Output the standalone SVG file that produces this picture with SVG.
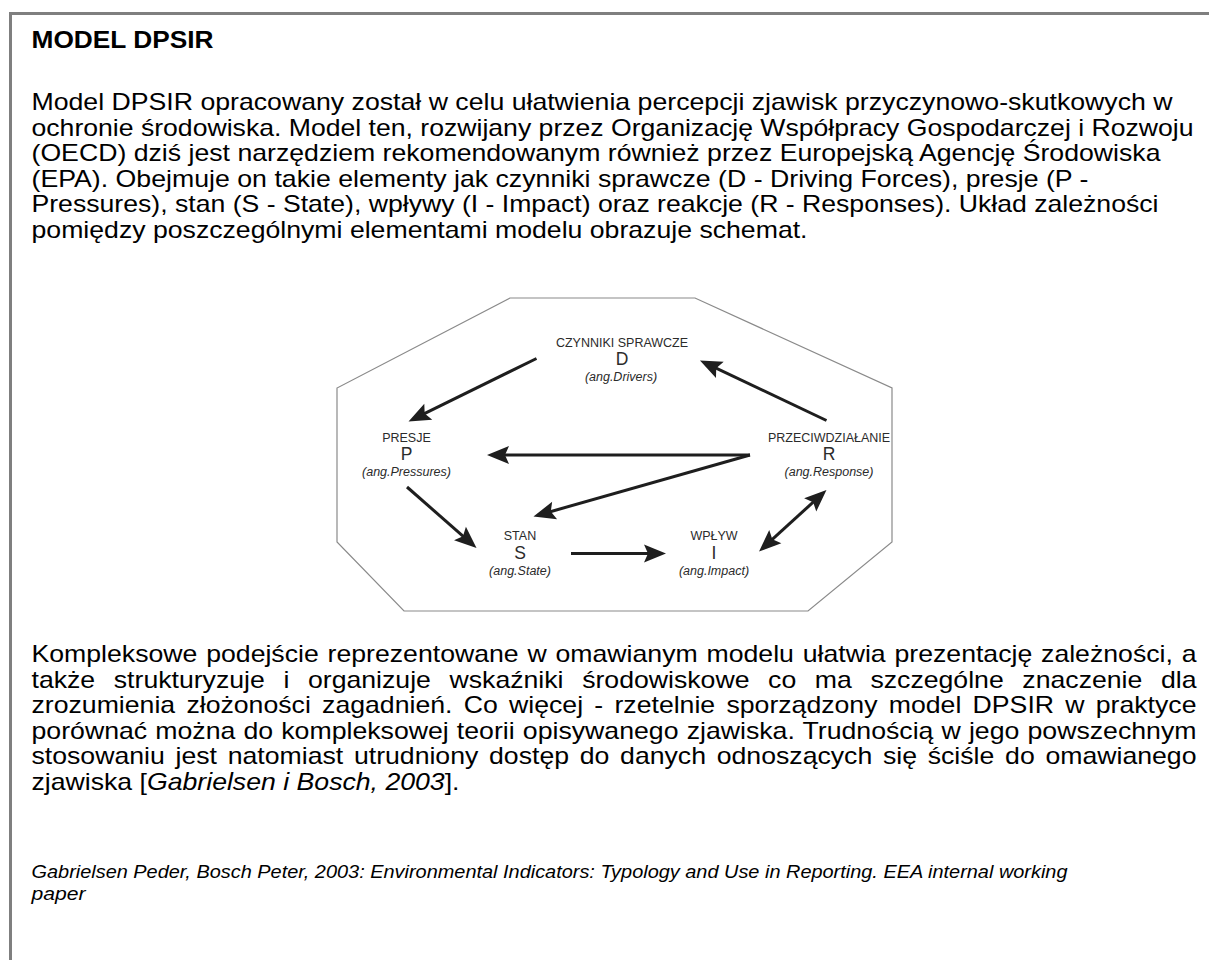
<svg xmlns="http://www.w3.org/2000/svg" width="1209" height="960" viewBox="0 0 1209 960">
<defs>
<style>
.body{font-family:"Liberation Sans",Arial,sans-serif;font-size:24px;fill:#000}
.title{font-weight:bold}
.ref{font-size:18px;font-style:italic}
.lab{font-family:"Liberation Sans",Arial,sans-serif;font-size:12.5px;fill:#2b2b2b;text-anchor:middle}
.let{font-size:17.5px}
.ang{font-style:italic}
.conn line{stroke:#1e1e1e;stroke-width:3;fill:none}
</style>
<marker id="ah" markerUnits="userSpaceOnUse" markerWidth="26" markerHeight="22" viewBox="-12 -11 26 22" refX="0" refY="0" orient="auto-start-reverse">
<path d="M12,0 L-10,-9 L-6,0 L-10,9 Z" fill="#1e1e1e"/>
</marker>
</defs>
<rect width="1209" height="960" fill="#fff"/>
<path d="M10.5,960 V13.5 H1209" fill="none" stroke="#7f7f7f" stroke-width="3"/>

<g id="title">
<text class="body title" x="31.5" y="48" textLength="182" lengthAdjust="spacingAndGlyphs">MODEL DPSIR</text>
</g>

<g id="paragraph1">
<text class="body" x="31.5" y="110" textLength="1141" lengthAdjust="spacingAndGlyphs">Model DPSIR opracowany został w celu ułatwienia percepcji zjawisk przyczynowo-skutkowych w</text>
<text class="body" x="31.5" y="135.6" textLength="1162" lengthAdjust="spacingAndGlyphs">ochronie środowiska. Model ten, rozwijany przez Organizację Współpracy Gospodarczej i Rozwoju</text>
<text class="body" x="31.5" y="161.2" textLength="1129" lengthAdjust="spacingAndGlyphs">(OECD) dziś jest narzędziem rekomendowanym również przez Europejską Agencję Środowiska</text>
<text class="body" x="31.5" y="186.8" textLength="1057" lengthAdjust="spacingAndGlyphs">(EPA). Obejmuje on takie elementy jak czynniki sprawcze (D - Driving Forces), presje (P -</text>
<text class="body" x="31.5" y="212.4" textLength="1127" lengthAdjust="spacingAndGlyphs">Pressures), stan (S - State), wpływy (I - Impact) oraz reakcje (R - Responses). Układ zależności</text>
<text class="body" x="31.5" y="238" textLength="776" lengthAdjust="spacingAndGlyphs">pomiędzy poszczególnymi elementami modelu obrazuje schemat.</text>
</g>

<g id="frame-octagon">
<polygon points="510,298 695,298 892,388 892,542 808,611 404,611 337,542 337,388" fill="#fff" stroke="#8a8a8a" stroke-width="1.2"/>
</g>

<g id="connectors" class="conn">
<line x1="536.5" y1="358.5" x2="419.3" y2="416.2" marker-end="url(#ah)"/>
<line x1="826.5" y1="420.5" x2="710.8" y2="365.6" marker-end="url(#ah)"/>
<line x1="750" y1="455" x2="499" y2="455" marker-end="url(#ah)"/>
<line x1="750" y1="455" x2="545" y2="513.2" marker-end="url(#ah)"/>
<line x1="407" y1="487" x2="467.5" y2="540.1" marker-end="url(#ah)"/>
<line x1="571" y1="553.5" x2="654" y2="553.5" marker-end="url(#ah)"/>
<line x1="767.9" y1="543.4" x2="817.6" y2="498.1" marker-start="url(#ah)" marker-end="url(#ah)"/>
</g>

<g id="node-D" class="lab">
<text x="622" y="346.5">CZYNNIKI SPRAWCZE</text>
<text class="let" x="622" y="365">D</text>
<text class="ang" x="621" y="381">(ang.Drivers)</text>
</g>
<g id="node-P" class="lab">
<text x="406.5" y="441.5">PRESJE</text>
<text class="let" x="406.5" y="460">P</text>
<text class="ang" x="406.5" y="476">(ang.Pressures)</text>
</g>
<g id="node-R" class="lab">
<text x="829" y="441.5">PRZECIWDZIAŁANIE</text>
<text class="let" x="829" y="460">R</text>
<text class="ang" x="829" y="476">(ang.Response)</text>
</g>
<g id="node-S" class="lab">
<text x="520" y="540">STAN</text>
<text class="let" x="520" y="558.5">S</text>
<text class="ang" x="520" y="574.5">(ang.State)</text>
</g>
<g id="node-I" class="lab">
<text x="714" y="540">WPŁYW</text>
<text class="let" x="714" y="558.5">I</text>
<text class="ang" x="714" y="574.5">(ang.Impact)</text>
</g>

<g id="paragraph2">
<text class="body" x="31.5" y="662" word-spacing="1.29" textLength="1165" lengthAdjust="spacingAndGlyphs">Kompleksowe podejście reprezentowane w omawianym modelu ułatwia prezentację zależności, a</text>
<text class="body" x="31.5" y="687.5" word-spacing="10.1" textLength="1165" lengthAdjust="spacingAndGlyphs">także strukturyzuje i organizuje wskaźniki środowiskowe co ma szczególne znaczenie dla</text>
<text class="body" x="31.5" y="713" word-spacing="3.48" textLength="1165" lengthAdjust="spacingAndGlyphs">zrozumienia złożoności zagadnień. Co więcej - rzetelnie sporządzony model DPSIR w praktyce</text>
<text class="body" x="31.5" y="738.5" word-spacing="0.63" textLength="1165" lengthAdjust="spacingAndGlyphs">porównać można do kompleksowej teorii opisywanego zjawiska. Trudnością w jego powszechnym</text>
<text class="body" x="31.5" y="764" word-spacing="2.98" textLength="1165" lengthAdjust="spacingAndGlyphs">stosowaniu jest natomiast utrudniony dostęp do danych odnoszących się ściśle do omawianego</text>
<text class="body" x="31.5" y="789.5" textLength="428" lengthAdjust="spacingAndGlyphs">zjawiska [<tspan font-style="italic">Gabrielsen i Bosch, 2003</tspan>].</text>
</g>

<g id="references">
<text class="body ref" x="31.5" y="878" textLength="1036" lengthAdjust="spacingAndGlyphs">Gabrielsen Peder, Bosch Peter, 2003: Environmental Indicators: Typology and Use in Reporting. EEA internal working</text>
<text class="body ref" x="31.5" y="900" textLength="54" lengthAdjust="spacingAndGlyphs">paper</text>
</g>
</svg>
